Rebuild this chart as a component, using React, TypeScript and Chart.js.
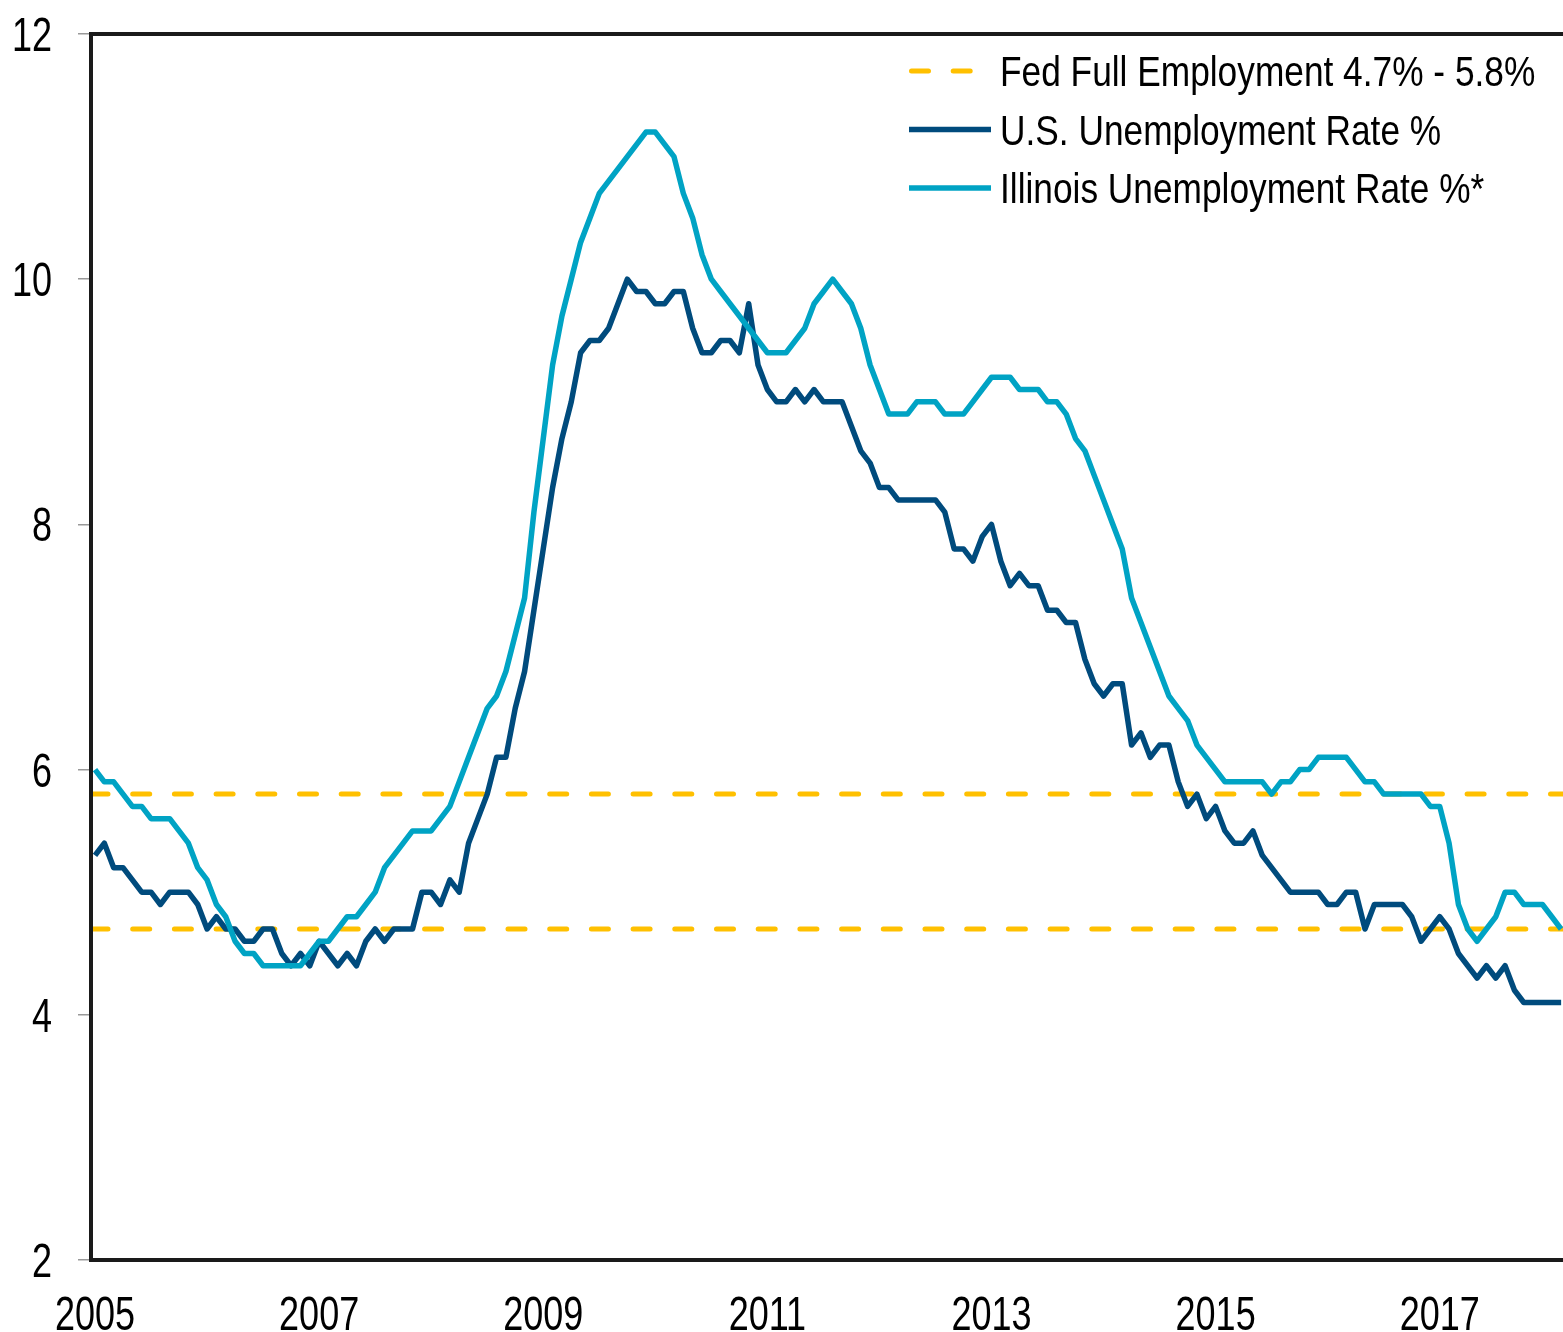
import React, { useEffect, useRef } from 'react';
import { Chart, registerables } from 'chart.js';

Chart.register(...registerables);

// ---- Data (monthly, starting January 2005) ----
const START_YEAR = 2005;

const usRate = [
  5.3, 5.4, 5.2, 5.2, 5.1, 5.0, 5.0, 4.9, 5.0, 5.0, 5.0, 4.9, // 2005
  4.7, 4.8, 4.7, 4.7, 4.6, 4.6, 4.7, 4.7, 4.5, 4.4, 4.5, 4.4, // 2006
  4.6, 4.5, 4.4, 4.5, 4.4, 4.6, 4.7, 4.6, 4.7, 4.7, 4.7, 5.0, // 2007
  5.0, 4.9, 5.1, 5.0, 5.4, 5.6, 5.8, 6.1, 6.1, 6.5, 6.8, 7.3, // 2008
  7.8, 8.3, 8.7, 9.0, 9.4, 9.5, 9.5, 9.6, 9.8, 10.0, 9.9, 9.9, // 2009
  9.8, 9.8, 9.9, 9.9, 9.6, 9.4, 9.4, 9.5, 9.5, 9.4, 9.8, 9.3, // 2010
  9.1, 9.0, 9.0, 9.1, 9.0, 9.1, 9.0, 9.0, 9.0, 8.8, 8.6, 8.5, // 2011
  8.3, 8.3, 8.2, 8.2, 8.2, 8.2, 8.2, 8.1, 7.8, 7.8, 7.7, 7.9, // 2012
  8.0, 7.7, 7.5, 7.6, 7.5, 7.5, 7.3, 7.3, 7.2, 7.2, 6.9, 6.7, // 2013
  6.6, 6.7, 6.7, 6.2, 6.3, 6.1, 6.2, 6.2, 5.9, 5.7, 5.8, 5.6, // 2014
  5.7, 5.5, 5.4, 5.4, 5.5, 5.3, 5.2, 5.1, 5.0, 5.0, 5.0, 5.0, // 2015
  4.9, 4.9, 5.0, 5.0, 4.7, 4.9, 4.9, 4.9, 4.9, 4.8, 4.6, 4.7, // 2016
  4.8, 4.7, 4.5, 4.4, 4.3, 4.4, 4.3, 4.4, 4.2, 4.1, 4.1, 4.1, // 2017
  4.1, 4.1, // 2018
];

const illinoisRate = [
  6.0, 5.9, 5.9, 5.8, 5.7, 5.7, 5.6, 5.6, 5.6, 5.5, 5.4, 5.2, // 2005
  5.1, 4.9, 4.8, 4.6, 4.5, 4.5, 4.4, 4.4, 4.4, 4.4, 4.4, 4.5, // 2006
  4.6, 4.6, 4.7, 4.8, 4.8, 4.9, 5.0, 5.2, 5.3, 5.4, 5.5, 5.5, // 2007
  5.5, 5.6, 5.7, 5.9, 6.1, 6.3, 6.5, 6.6, 6.8, 7.1, 7.4, 8.1, // 2008
  8.7, 9.3, 9.7, 10.0, 10.3, 10.5, 10.7, 10.8, 10.9, 11.0, 11.1, 11.2, // 2009
  11.2, 11.1, 11.0, 10.7, 10.5, 10.2, 10.0, 9.9, 9.8, 9.7, 9.6, 9.5, // 2010
  9.4, 9.4, 9.4, 9.5, 9.6, 9.8, 9.9, 10.0, 9.9, 9.8, 9.6, 9.3, // 2011
  9.1, 8.9, 8.9, 8.9, 9.0, 9.0, 9.0, 8.9, 8.9, 8.9, 9.0, 9.1, // 2012
  9.2, 9.2, 9.2, 9.1, 9.1, 9.1, 9.0, 9.0, 8.9, 8.7, 8.6, 8.4, // 2013
  8.2, 8.0, 7.8, 7.4, 7.2, 7.0, 6.8, 6.6, 6.5, 6.4, 6.2, 6.1, // 2014
  6.0, 5.9, 5.9, 5.9, 5.9, 5.9, 5.8, 5.9, 5.9, 6.0, 6.0, 6.1, // 2015
  6.1, 6.1, 6.1, 6.0, 5.9, 5.9, 5.8, 5.8, 5.8, 5.8, 5.8, 5.7, // 2016
  5.7, 5.4, 4.9, 4.7, 4.6, 4.7, 4.8, 5.0, 5.0, 4.9, 4.9, 4.9, // 2017
  4.8, 4.7, // 2018
];

const fedFullEmploymentBand = [5.8, 4.7];

const xTickYears = [2005, 2007, 2009, 2011, 2013, 2015, 2017];
const yTickValues = [2, 4, 6, 8, 10, 12];

const fedLabel = 'Fed Full Employment 4.7% - 5.8%';
const usLabel = 'U.S. Unemployment Rate %';
const illinoisLabel = 'Illinois Unemployment Rate %*';

// ---- Styling ----
const FONT_FAMILY = "'Liberation Sans', Arial, sans-serif";
const TICK_FONT_SIZE = 48;
const TICK_SCALE_X = 0.75;
const LEGEND_FONT_SIZE = 42;
const LEGEND_SCALE_X = 0.84;
const US_COLOR = '#004B7D';
const IL_COLOR = '#00A3C4';
const FED_COLOR = '#FFC000';
const FED_DASH = [17, 24.7];

const X_MIN = -0.43;
const X_MAX = 157.2;

function drawNarrowText(
  ctx: CanvasRenderingContext2D,
  text: string,
  x: number,
  y: number,
  size: number,
  scaleX: number,
  align: CanvasTextAlign
) {
  ctx.save();
  ctx.translate(x, y);
  ctx.scale(scaleX, 1);
  ctx.font = `${size}px ${FONT_FAMILY}`;
  ctx.fillStyle = '#000';
  ctx.textAlign = align;
  ctx.textBaseline = 'alphabetic';
  ctx.fillText(text, 0, 0);
  ctx.restore();
}

const framePlugin = {
  id: 'frame',
  afterDatasetsDraw(chart: any) {
    const { ctx, chartArea } = chart;
    const { left, top, right, bottom } = chartArea;
    ctx.save();
    ctx.strokeStyle = '#1a1a1a';
    ctx.lineWidth = 4;
    ctx.beginPath();
    ctx.moveTo(right + 4, top);
    ctx.lineTo(left, top);
    ctx.lineTo(left, bottom);
    ctx.lineTo(right + 4, bottom);
    ctx.stroke();
    ctx.restore();
  },
};

const axisLabelPlugin = {
  id: 'narrowAxisLabels',
  afterDraw(chart: any) {
    const { ctx, scales } = chart;
    const xs = scales.x;
    const ys = scales.y;
    yTickValues.forEach((v) => {
      const py = ys.getPixelForValue(v);
      drawNarrowText(ctx, String(v), ys.right - 39, py + 17, TICK_FONT_SIZE, TICK_SCALE_X, 'right');
    });
    xTickYears.forEach((yr) => {
      const px = xs.getPixelForValue((yr - START_YEAR) * 12);
      drawNarrowText(ctx, String(yr), px, xs.top + 70, TICK_FONT_SIZE, TICK_SCALE_X, 'center');
    });
  },
};

const legendPlugin = {
  id: 'insideLegend',
  afterDatasetsDraw(chart: any) {
    const { ctx, chartArea } = chart;
    const items = chart.data.datasets.filter((d: any) => d.showInLegend);
    const lineStart = chartArea.right - 654;
    const lineEnd = chartArea.right - 572;
    const textX = chartArea.right - 563;
    items.forEach((ds: any, k: number) => {
      const y = chartArea.top + 37 + k * 58.5;
      ctx.save();
      ctx.strokeStyle = ds.borderColor;
      ctx.lineWidth = ds.borderWidth;
      if (ds.borderDash) {
        ctx.setLineDash(ds.borderDash);
        ctx.lineCap = 'round';
        ctx.beginPath();
        ctx.moveTo(lineStart + 2.5, y);
        ctx.lineTo(lineEnd - 12, y);
        ctx.stroke();
      } else {
        ctx.lineCap = 'butt';
        ctx.beginPath();
        ctx.moveTo(lineStart, y);
        ctx.lineTo(lineEnd, y);
        ctx.stroke();
      }
      ctx.restore();
      drawNarrowText(ctx, ds.label, textX, y + 15, LEGEND_FONT_SIZE, LEGEND_SCALE_X, 'left');
    });
  },
};

function toPoints(values: number[]) {
  return values.map((v, i) => ({ x: i, y: v }));
}

export default function App() {
  const canvasRef = useRef<HTMLCanvasElement | null>(null);

  useEffect(() => {
    const canvas = canvasRef.current;
    if (!canvas) return;

    const fedDatasets = fedFullEmploymentBand.map((level, k) => ({
      label: fedLabel,
      data: [
        { x: X_MIN, y: level },
        { x: X_MAX, y: level },
      ],
      borderColor: FED_COLOR,
      borderWidth: 5,
      borderDash: FED_DASH,
      borderCapStyle: 'round',
      pointRadius: 0,
      fill: false,
      order: 3,
      showInLegend: k === 0,
    }));

    const chart = new Chart(canvas, {
      type: 'line',
      data: {
        datasets: [
          ...fedDatasets,
          {
            label: usLabel,
            data: toPoints(usRate),
            borderColor: US_COLOR,
            borderWidth: 5.5,
            borderJoinStyle: 'round',
            pointRadius: 0,
            tension: 0,
            fill: false,
            order: 2,
            showInLegend: true,
          },
          {
            label: illinoisLabel,
            data: toPoints(illinoisRate),
            borderColor: IL_COLOR,
            borderWidth: 5.5,
            borderJoinStyle: 'round',
            pointRadius: 0,
            tension: 0,
            fill: false,
            order: 1,
            showInLegend: true,
          },
        ] as any,
      },
      options: {
        animation: false,
        responsive: false,
        maintainAspectRatio: false,
        layout: { padding: { top: 34, left: 0, right: 0, bottom: 0 } },
        plugins: {
          legend: { display: false },
          tooltip: { enabled: false },
        },
        scales: {
          x: {
            type: 'linear',
            min: X_MIN,
            max: X_MAX,
            afterBuildTicks: (scale: any) => {
              scale.ticks = xTickYears.map((yr) => ({ value: (yr - START_YEAR) * 12 }));
            },
            afterFit: (scale: any) => {
              scale.height = 72;
            },
            grid: { display: false, drawTicks: false },
            border: { display: false },
            ticks: { display: false },
          },
          y: {
            type: 'linear',
            min: yTickValues[0],
            max: yTickValues[yTickValues.length - 1],
            afterBuildTicks: (scale: any) => {
              scale.ticks = yTickValues.map((v) => ({ value: v }));
            },
            afterFit: (scale: any) => {
              scale.width = 91;
            },
            grid: {
              display: true,
              drawOnChartArea: false,
              drawTicks: true,
              tickLength: 13,
              color: '#999',
              lineWidth: 1.5,
            },
            border: { display: false },
            ticks: { display: false },
          },
        },
      } as any,
      plugins: [framePlugin, legendPlugin, axisLabelPlugin],
    });

    return () => {
      chart.destroy();
    };
  }, []);

  return (
    <div style={{ position: 'absolute', left: 0, top: 0, width: 1563, height: 1332, background: '#fff' }}>
      <canvas ref={canvasRef} width={1563} height={1332} style={{ width: 1563, height: 1332, display: 'block' }} />
    </div>
  );
}
